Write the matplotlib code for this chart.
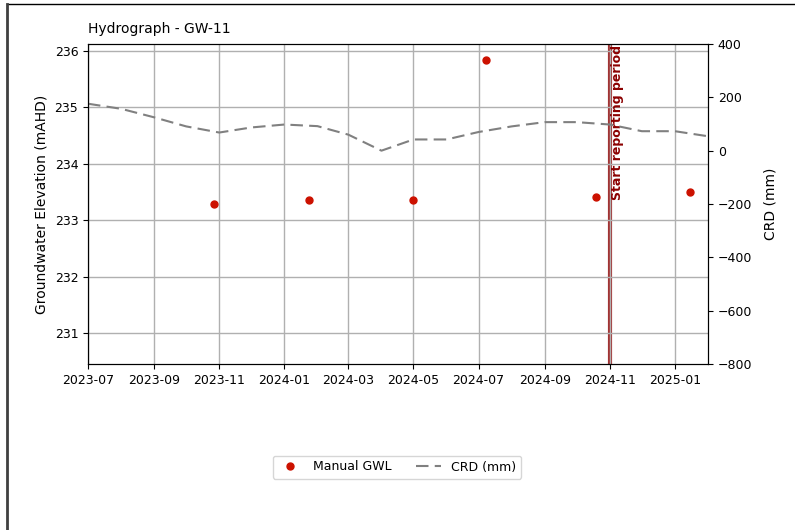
import matplotlib
matplotlib.use("Agg")
import matplotlib.pyplot as plt
import matplotlib.dates as mdates
from matplotlib.lines import Line2D
import pandas as pd

# manual groundwater level readings (mAHD)
gwl_dates = ["2023-10-27", "2024-01-24", "2024-05-01", "2024-07-08", "2024-10-19", "2025-01-15"]
gwl_values = [233.28, 233.35, 233.35, 235.83, 233.41, 233.50]

# cumulative rainfall deviation (mm), monthly
crd_dates = ["2023-07-01", "2023-08-01", "2023-09-01", "2023-10-01", "2023-11-01", "2023-12-01",
             "2024-01-01", "2024-02-01", "2024-03-01", "2024-04-01", "2024-05-01", "2024-06-01",
             "2024-07-01", "2024-08-01", "2024-09-01", "2024-10-01", "2024-11-01", "2024-12-01",
             "2025-01-01", "2025-02-01"]
crd_values = [176, 157, 125, 91, 68, 87, 98, 92, 60, 0, 42, 42, 70, 91, 107, 107, 98, 73, 73, 54]

report_start = "2024-11-01"
site = "GW-11"

gwl_dates = pd.to_datetime(gwl_dates)
crd_dates = pd.to_datetime(crd_dates)

fig = plt.figure(figsize=(7.95, 5.3), dpi=100)
ax = fig.add_axes([88 / 795, 1 - 364 / 530, (708 - 88) / 795, (364 - 44) / 530])

ax.grid(True, color="#b0b0b0", linewidth=1.0)
ax.axvline(pd.Timestamp(report_start), color="darkred", linewidth=3, alpha=0.8, zorder=1)
ax.plot(gwl_dates, gwl_values, "o", color="#cc1100", markersize=5, linestyle="none",
        label="Manual GWL", zorder=3)
ax.text(pd.Timestamp(report_start) + pd.Timedelta(days=1), 236.11, "Start reporting period",
        rotation=90, va="top", ha="left", color="darkred", fontweight="bold", fontsize=9)

ax.set_ylim(230.45, 236.12)
ax.set_xlim(pd.Timestamp("2023-07-01"), pd.Timestamp("2025-02-01"))
ax.xaxis.set_major_locator(mdates.MonthLocator(bymonth=[1, 3, 5, 7, 9, 11]))
ax.xaxis.set_major_formatter(mdates.DateFormatter("%Y-%m"))
ax.set_ylabel("Groundwater Elevation (mAHD)", fontsize=10)
ax.tick_params(labelsize=9)
ax.set_title(f"Hydrograph - {site}", loc="left", fontsize=10, pad=8)

ax2 = ax.twinx()
ax2.plot(crd_dates, crd_values, linestyle="--", color="gray", linewidth=1.5,
         dashes=(6, 3), label="CRD (mm)")
ax2.set_ylim(-800, 400)
ax2.set_ylabel("CRD (mm)", fontsize=10, labelpad=8)
ax2.tick_params(labelsize=9)

h1, l1 = ax.get_legend_handles_labels()
h2, l2 = ax2.get_legend_handles_labels()
fig.legend(h1 + h2, l1 + l2, loc="center", bbox_to_anchor=(397 / 795, 1 - 467 / 530),
           ncol=2, fontsize=9)

# outer frame of the panel
fig.add_artist(Line2D([7 / 795, 1], [1 - 4 / 530, 1 - 4 / 530], transform=fig.transFigure,
                      color="black", linewidth=1))
fig.add_artist(Line2D([7 / 795, 7 / 795], [0, 1 - 4 / 530], transform=fig.transFigure,
                      color="#404040", linewidth=2))

fig.savefig("out.png", dpi=100)
